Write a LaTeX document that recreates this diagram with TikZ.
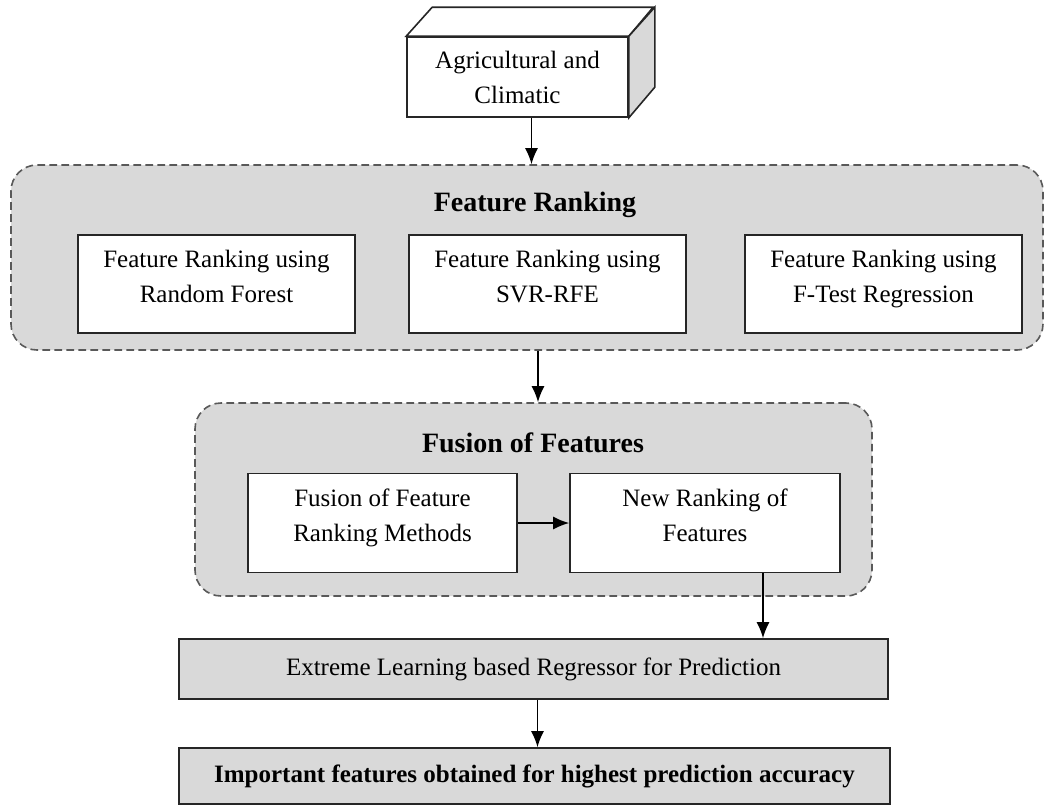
\documentclass[tikz,border=0pt]{standalone}
\usepackage{fontspec}
\setmainfont{Liberation Serif}
\usetikzlibrary{arrows.meta,positioning,calc}
\definecolor{panelgray}{RGB}{217,217,217}
\tikzstyle{block}=[align=center, draw=black!85, thick, rectangle, font=\fontsize{12.5}{17.5}\selectfont]
\tikzstyle{white box}=[block, fill=white, minimum width=138.5pt, minimum height=49pt, text depth=8pt]
\tikzstyle{gray box}=[block, fill=panelgray, minimum height=30pt]
\tikzstyle{group}=[draw=black!65, thick, dash pattern=on 3.8pt off 2.2pt, fill=panelgray, rounded corners=13pt, rectangle]
\tikzstyle{group title}=[font=\bfseries\fontsize{14}{17}\selectfont]
\tikzstyle{my arrow}=[-{Latex[length=8pt,width=6.5pt]}, thick]

\begin{document}
\begin{tikzpicture}[x=0.5pt,y=-0.5pt]
\useasboundingbox (0,0) rectangle (1046,805);

% data source (3d box)
\node[block, fill=white, minimum width=110.5pt, minimum height=40pt] (data) at (517.5,77) {Agricultural and\\Climatic};
\draw[thick, draw=black!85, fill=white] (data.north west) -- ++(26,-29) -- ++(221,0) -- (data.north east) -- cycle;
\draw[thick, draw=black!85, fill=panelgray] (data.north east) -- ++(26,-29) -- ++(0,80) -- (data.south east) -- cycle;

% feature ranking stage
\node[group, minimum width=516pt, minimum height=92.5pt] (rankgroup) at (527,257.5) {};
\node[group title] (ranktitle) at (535,205) {Feature Ranking};
\node[white box] (rf) at (216.5,284) {Feature Ranking using\\Random Forest};
\node[white box] (svr) at (547.5,284) {Feature Ranking using\\SVR-RFE};
\node[white box] (ftest) at (883.5,284) {Feature Ranking using\\F-Test Regression};

% fusion stage
\node[group, minimum width=338.5pt, minimum height=96.5pt] (fusgroup) at (533.5,499.5) {};
\node[group title] (fustitle) at (533,443) {Fusion of Features};
\node[white box, minimum width=134.5pt, minimum height=49.5pt] (fuse) at (382.5,523) {Fusion of Feature\\Ranking Methods};
\node[white box, minimum width=135pt, minimum height=49.5pt] (newrank) at (705,523) {New Ranking of\\Features};

% regressor and result
\node[gray box, minimum width=354.5pt] (elm) at (533.5,669) {Extreme Learning based Regressor for Prediction};
\node[gray box, minimum width=355.5pt, minimum height=28pt, font=\bfseries\fontsize{12.5}{15}\selectfont] (result) at (534.5,776) {Important features obtained for highest prediction accuracy};

\draw[my arrow] ([xshift=7pt]data.south) -- ([xshift=7pt]data.south |- rankgroup.north);
\draw[my arrow] ([xshift=5.5pt]rankgroup.south) -- ([xshift=5.5pt]rankgroup.south |- fusgroup.north);
\draw[my arrow] (fuse) -- (newrank);
\draw[my arrow] ([xshift=29pt]newrank.south) -- ([xshift=29pt]newrank.south |- elm.north);
\draw[my arrow] ([xshift=2pt]elm.south) -- ([xshift=2pt]elm.south |- result.north);

\end{tikzpicture}
\end{document}
